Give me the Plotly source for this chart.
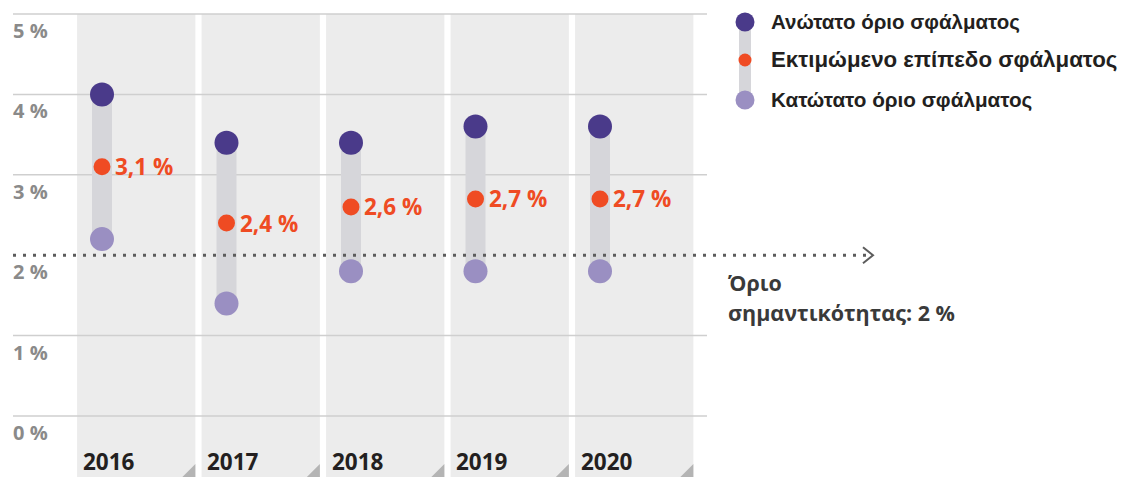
import plotly.graph_objects as go

# ---- data ----
years = ["2016", "2017", "2018", "2019", "2020"]
upper = [4.0, 3.4, 3.4, 3.6, 3.6]
estimate = [3.1, 2.4, 2.6, 2.7, 2.7]
lower = [2.2, 1.4, 1.8, 1.8, 1.8]
est_labels = ["3,1 %", "2,4 %", "2,6 %", "2,7 %", "2,7 %"]
y_ticks = [0, 1, 2, 3, 4, 5]
y_tick_labels = ["0 %", "1 %", "2 %", "3 %", "4 %", "5 %"]
threshold = 2.0
threshold_label = ["Όριο", "σημαντικότητας: 2 %"]
legend_labels = ["Ανώτατο όριο σφάλματος", "Εκτιμώμενο επίπεδο σφάλματος", "Κατώτατο όριο σφάλματος"]

# ---- layout geometry ----
W, H = 1123, 477
PX_X, PX_Y = 124.5, 80.4       # pixels per unit
OX, OY = 102, 416              # pixel of (0,0)
xr = [-OX / PX_X, (W - OX) / PX_X]
yr = [-(H - OY) / PX_Y, OY / PX_Y]

def dx(px):
    return (px - OX) / PX_X

def dy(py):
    return (OY - py) / PX_Y

C_UP, C_EST, C_LOW = "#4a3a8a", "#ef4b23", "#9a8fc2"
C_BAR = "#d6d6da"
C_COL = "#ececec"
C_GRID = "#cfcfcf"

xs = list(range(len(years)))
fig = go.Figure()

shapes = []
annotations = []

# column backgrounds
for i in xs:
    shapes.append(dict(type="rect", xref="x", yref="y", x0=i - 0.2, x1=i + 0.75,
                       y0=yr[0], y1=max(y_ticks), fillcolor=C_COL, line_width=0, layer="below"))
    # corner triangle
    xr1 = i + 0.75
    shapes.append(dict(type="path", xref="x", yref="y",
                       path=f"M {xr1} {yr[0]} L {xr1} {yr[0] + 13 / PX_Y} L {xr1 - 13 / PX_X} {yr[0]} Z",
                       fillcolor="#b4b4b4", line_width=0, layer="below"))

# gridlines
for t in y_ticks:
    if t == threshold:
        continue
    shapes.append(dict(type="line", xref="x", yref="y", x0=dx(13), x1=dx(707), y0=t, y1=t,
                       line=dict(color=C_GRID, width=1.5), layer="below"))

# threshold dotted line + arrow
shapes.append(dict(type="line", xref="x", yref="y", x0=dx(13), x1=dx(868), y0=threshold, y1=threshold,
                   line=dict(color="#5c5c5c", width=3, dash="3px,7px")))
ty = threshold
shapes.append(dict(type="path", xref="x", yref="y",
                   path=f"M {dx(863)} {ty + 8 / PX_Y} L {dx(873)} {ty} L {dx(863)} {ty - 8 / PX_Y}",
                   line=dict(color="#5c5c5c", width=2)))

# connecting bars
for i in xs:
    fig.add_trace(go.Scatter(x=[i, i], y=[lower[i], upper[i]], mode="lines",
                             line=dict(color=C_BAR, width=20), hoverinfo="skip", showlegend=False))

fig.add_trace(go.Scatter(x=xs, y=upper, mode="markers", marker=dict(size=24, color=C_UP),
                         name=legend_labels[0], showlegend=False))
fig.add_trace(go.Scatter(x=xs, y=lower, mode="markers", marker=dict(size=24, color=C_LOW),
                         name=legend_labels[2], showlegend=False))
fig.add_trace(go.Scatter(x=xs, y=estimate, mode="markers", marker=dict(size=17, color=C_EST),
                         name=legend_labels[1], showlegend=False))

# estimate labels
for i in xs:
    annotations.append(dict(x=i, y=estimate[i], xref="x", yref="y", text=est_labels[i],
                            xanchor="left", yanchor="middle", xshift=11, showarrow=False,
                            font=dict(family="Open Sans", size=22.5, color=C_EST, weight="bold")))

# year labels
for i in xs:
    annotations.append(dict(x=i - 0.17, y=dy(461), xref="x", yref="y", text=years[i],
                            xanchor="left", yanchor="middle", showarrow=False,
                            font=dict(family="Open Sans", size=22.5, color="#231f20", weight="bold")))

# y tick labels
for t, lab in zip(y_ticks, y_tick_labels):
    annotations.append(dict(x=11 / W, y=t, xref="paper", yref="y", text=lab,
                            xanchor="left", yanchor="top", yshift=-1, showarrow=False,
                            font=dict(family="Open Sans", size=20, color="#8a8a8a", weight="bold")))

# threshold label
for k, txt in enumerate(threshold_label):
    annotations.append(dict(x=726 / W, y=1 - (282 + 30 * k) / H, xref="paper", yref="paper", text=txt,
                            xanchor="left", yanchor="middle", showarrow=False,
                            font=dict(family="Open Sans", size=21.5, color="#3a3a3a", weight="bold")))

# legend (custom)
LX = 745
ly = [22, 60, 100]
def pxp(px):
    return px / W
def pyp(py):
    return 1 - py / H
shapes.append(dict(type="rect", xref="paper", yref="paper", x0=pxp(LX - 6), x1=pxp(LX + 6),
                   y0=pyp(ly[2]), y1=pyp(ly[0]), fillcolor=C_BAR, line_width=0))
for y, c, r in zip(ly, [C_UP, C_EST, C_LOW], [9.5, 6.5, 9.5]):
    shapes.append(dict(type="circle", xref="paper", yref="paper", x0=pxp(LX - r), x1=pxp(LX + r),
                       y0=pyp(y + r), y1=pyp(y - r), fillcolor=c, line_width=0))
for y, txt, sz in zip(ly, legend_labels, [20.5, 22.3, 20.7]):
    annotations.append(dict(x=pxp(769), y=pyp(y), xref="paper", yref="paper", text=txt,
                            xanchor="left", yanchor="middle", showarrow=False,
                            font=dict(family="Liberation Sans", size=sz, color="#231f20", weight="bold")))

fig.update_layout(
    width=W, height=H, margin=dict(l=0, r=0, t=0, b=0),
    paper_bgcolor="white", plot_bgcolor="white",
    xaxis=dict(range=xr, visible=False, fixedrange=True),
    yaxis=dict(range=yr, visible=False, fixedrange=True),
    shapes=shapes, annotations=annotations, showlegend=False,
)

fig.write_html("out.html", config={"displayModeBar": False},
               post_script="document.body.style.margin='0';document.body.style.overflow='hidden';")
